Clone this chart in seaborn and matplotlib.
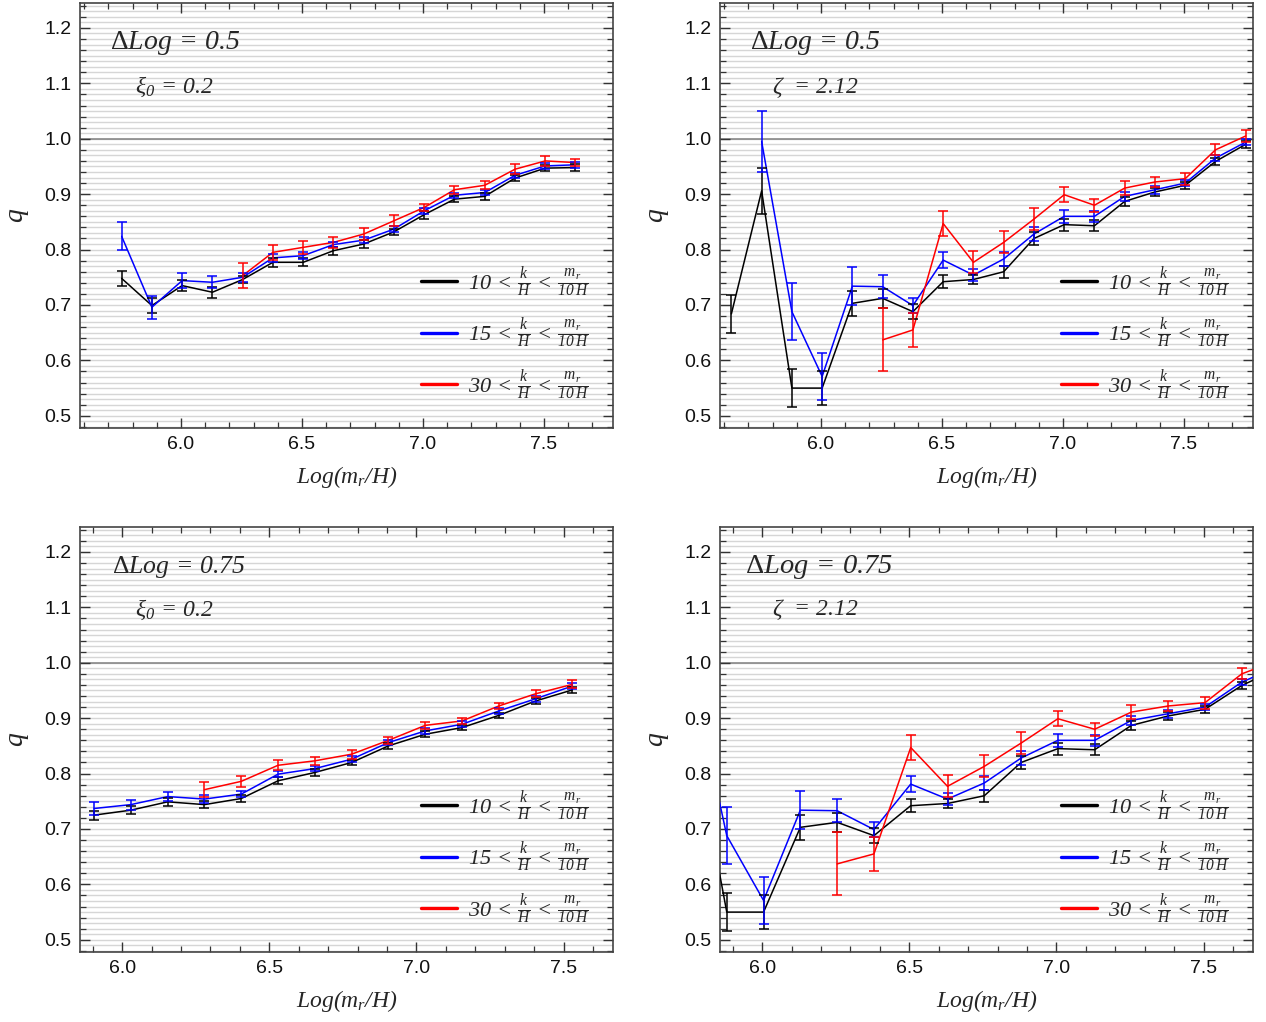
import matplotlib
matplotlib.use('Agg')
import matplotlib.pyplot as plt
import seaborn as sns
import pandas as pd
from matplotlib.lines import Line2D
from matplotlib.ticker import MultipleLocator

sns.set_theme(style='white')
plt.rcParams['font.family'] = ['Liberation Sans', 'DejaVu Sans']
# Mathematica-like italic serif text; upright serif kept in the sf slot for the Delta
plt.rcParams['mathtext.fontset'] = 'custom'
plt.rcParams['mathtext.rm'] = 'Liberation Serif:italic'
plt.rcParams['mathtext.it'] = 'Liberation Serif:italic'
plt.rcParams['mathtext.sf'] = 'Liberation Serif'
plt.rcParams['mathtext.bf'] = 'Liberation Serif:bold'

# --- top-left: DeltaLog = 0.5, xi0 = 0.2 ---
tl_x = [5.755, 5.88, 6.005, 6.13, 6.255, 6.38, 6.505, 6.63, 6.755, 6.88, 7.005, 7.13, 7.255, 7.38, 7.505, 7.63]
tl_q10 = [0.748, 0.699, 0.735, 0.723, 0.746, 0.777, 0.777, 0.798, 0.810, 0.832, 0.863, 0.891, 0.896, 0.929, 0.947, 0.948]
tl_e10 = [0.014, 0.013, 0.010, 0.010, 0.006, 0.008, 0.007, 0.007, 0.007, 0.006, 0.007, 0.006, 0.006, 0.006, 0.006, 0.006]
tl_q15 = [0.824, 0.696, 0.744, 0.741, 0.750, 0.785, 0.789, 0.809, 0.817, 0.837, 0.870, 0.898, 0.903, 0.934, 0.951, 0.953]
tl_e15 = [0.025, 0.021, 0.014, 0.011, 0.008, 0.007, 0.006, 0.005, 0.005, 0.005, 0.005, 0.005, 0.005, 0.005, 0.005, 0.005]
tl_x30 = [6.255, 6.38, 6.505, 6.63, 6.755, 6.88, 7.005, 7.13, 7.255, 7.38, 7.505, 7.63]
tl_q30 = [0.753, 0.795, 0.804, 0.813, 0.828, 0.852, 0.876, 0.908, 0.916, 0.945, 0.960, 0.957]
tl_e30 = [0.022, 0.014, 0.012, 0.010, 0.011, 0.010, 0.007, 0.007, 0.007, 0.009, 0.009, 0.007]

# --- right column: zeta = 2.12 (same data, two x ranges) ---
tr_x = [5.63, 5.755, 5.88, 6.005, 6.13, 6.255, 6.38, 6.505, 6.63, 6.755, 6.88, 7.005, 7.13, 7.255, 7.38, 7.505, 7.63, 7.755]
tr_q10 = [0.684, 0.906, 0.550, 0.550, 0.703, 0.712, 0.688, 0.742, 0.746, 0.760, 0.820, 0.845, 0.843, 0.887, 0.904, 0.916, 0.959, 0.990]
tr_e10 = [0.034, 0.041, 0.035, 0.030, 0.023, 0.017, 0.013, 0.012, 0.009, 0.011, 0.012, 0.011, 0.010, 0.008, 0.007, 0.006, 0.007, 0.006]
tr_x15 = [5.755, 5.88, 6.005, 6.13, 6.255, 6.38, 6.505, 6.63, 6.755, 6.88, 7.005, 7.13, 7.255, 7.38, 7.505, 7.63, 7.755]
tr_q15 = [0.995, 0.688, 0.571, 0.734, 0.733, 0.699, 0.781, 0.754, 0.783, 0.828, 0.860, 0.860, 0.896, 0.908, 0.920, 0.965, 0.994]
tr_e15 = [0.055, 0.052, 0.043, 0.034, 0.021, 0.014, 0.014, 0.011, 0.013, 0.012, 0.012, 0.010, 0.008, 0.007, 0.006, 0.006, 0.006]
tr_x30 = [6.255, 6.38, 6.505, 6.63, 6.755, 6.88, 7.005, 7.13, 7.255, 7.38, 7.505, 7.63, 7.755]
tr_q30 = [0.637, 0.655, 0.847, 0.777, 0.813, 0.855, 0.899, 0.880, 0.911, 0.922, 0.928, 0.980, 1.005]
tr_e30 = [0.057, 0.031, 0.023, 0.020, 0.020, 0.020, 0.014, 0.012, 0.013, 0.009, 0.011, 0.010, 0.010]

# --- bottom-left: DeltaLog = 0.75, xi0 = 0.2 ---
bl_x = [5.905, 6.03, 6.155, 6.28, 6.405, 6.53, 6.655, 6.78, 6.905, 7.03, 7.155, 7.28, 7.405, 7.53]
bl_q10 = [0.725, 0.734, 0.749, 0.744, 0.755, 0.787, 0.802, 0.820, 0.850, 0.871, 0.883, 0.905, 0.931, 0.951]
bl_e10 = [0.008, 0.0075, 0.0075, 0.007, 0.006, 0.006, 0.006, 0.005, 0.005, 0.005, 0.005, 0.005, 0.005, 0.005]
bl_q15 = [0.737, 0.744, 0.7585, 0.754, 0.763, 0.799, 0.809, 0.826, 0.856, 0.877, 0.889, 0.913, 0.935, 0.958]
bl_e15 = [0.012, 0.009, 0.0075, 0.0065, 0.0055, 0.006, 0.005, 0.005, 0.005, 0.005, 0.005, 0.005, 0.005, 0.005]
bl_x30 = [6.28, 6.405, 6.53, 6.655, 6.78, 6.905, 7.03, 7.155, 7.28, 7.405, 7.53]
bl_q30 = [0.771, 0.786, 0.815, 0.823, 0.835, 0.860, 0.887, 0.895, 0.922, 0.944, 0.961]
bl_e30 = [0.013, 0.0105, 0.009, 0.0075, 0.008, 0.006, 0.006, 0.005, 0.006, 0.006, 0.007]

series_names = ['10', '15', '30']
colors = {'10': 'black', '15': '#0000ff', '30': '#ff0000'}
legend_labels = [r'$%s\,<\,\frac{k}{H}\,<\,\frac{m_r}{10\,H}$' % s for s in series_names]

W, H = 1266, 1022
fig = plt.figure(figsize=(W / 100, H / 100), dpi=100)


def make_frame(xs, qs, es):
    parts = []
    for name, x, q, e in zip(series_names, xs, qs, es):
        parts.append(pd.DataFrame({'x': x, 'q': q, 'err': e, 'series': name}))
    return pd.concat(parts, ignore_index=True)


def draw_panel(rect, df, xlim, title, param):
    ax = fig.add_axes(rect)
    # light grid every 0.01, dark line at q = 1
    for i in range(48, 125):
        ax.axhline(i / 100, color='#d6d6d6', lw=1.0, zorder=0)
    ax.axhline(1.0, color='#808080', lw=1.1, zorder=0.5)

    sns.lineplot(data=df, x='x', y='q', hue='series', palette=colors,
                 estimator=None, sort=False, lw=1.1, legend=False, ax=ax, zorder=3)
    for name in series_names:
        d = df[df['series'] == name]
        ax.errorbar(d['x'], d['q'], yerr=d['err'], fmt='none', ecolor=colors[name],
                    elinewidth=1.1, capsize=3.6, capthick=1.1, zorder=3)

    ax.set_xlim(*xlim)
    ax.set_ylim(0.478, 1.245)
    ax.xaxis.set_major_locator(MultipleLocator(0.5))
    ax.xaxis.set_minor_locator(MultipleLocator(0.1))
    ax.yaxis.set_major_locator(MultipleLocator(0.1))
    ax.yaxis.set_minor_locator(MultipleLocator(0.02))
    ax.xaxis.set_major_formatter(plt.FormatStrFormatter('%.1f'))
    ax.yaxis.set_major_formatter(plt.FormatStrFormatter('%.1f'))
    ax.tick_params(which='both', direction='in', top=True, right=True,
                   bottom=True, left=True, color='#333333', labelsize=14,
                   labelcolor='#111111')
    ax.tick_params(which='major', length=7, width=1.0, pad=6)
    ax.tick_params(which='minor', length=4, width=0.9)
    for sp in ax.spines.values():
        sp.set_color('#444444')
        sp.set_linewidth(1.2)

    ax.set_xlabel(r'$Log(m_r/H)$', fontsize=17, labelpad=8)
    ax.set_ylabel(r'$q$', fontsize=20, labelpad=10)

    ax.text(title[0], title[1], title[2], transform=ax.transAxes, fontsize=title[3],
            ha='left', va='center')
    ax.text(param[0], param[1], param[2], transform=ax.transAxes, fontsize=17,
            ha='left', va='center')

    handles = [Line2D([0], [0], color=colors[s], lw=2.4) for s in series_names]
    ax.legend(handles, legend_labels, loc='center left', bbox_to_anchor=(0.64, 0.222),
              frameon=False, fontsize=16, handlelength=1.6, handletextpad=0.5,
              labelspacing=0.75, borderpad=0, borderaxespad=0)
    return ax


ax_w = 533 / W
ax_h = 425 / H
top_b = 1 - 428 / H
bot_b = 1 - 952 / H
left_l = 80 / W
right_l = 720 / W

dl05 = r'$\mathsf{\Delta}Log\,=\,0.5$'
dl075 = r'$\mathsf{\Delta}Log\,=\,0.75$'
xi_txt = r'$\xi_{0}\,=\,0.2$'
zeta_txt = r'$\zeta\ \,=\,2.12$'

df_tl = make_frame([tl_x, tl_x, tl_x30], [tl_q10, tl_q15, tl_q30], [tl_e10, tl_e15, tl_e30])
df_tr = make_frame([tr_x, tr_x15, tr_x30], [tr_q10, tr_q15, tr_q30], [tr_e10, tr_e15, tr_e30])
df_bl = make_frame([bl_x, bl_x, bl_x30], [bl_q10, bl_q15, bl_q30], [bl_e10, bl_e15, bl_e30])

draw_panel([left_l, top_b, ax_w, ax_h], df_tl, (5.583, 7.785),
           (0.056, 0.906, dl05, 20), (0.103, 0.802, xi_txt))
draw_panel([right_l, top_b, ax_w, ax_h], df_tr, (5.583, 7.785),
           (0.056, 0.906, dl05, 20), (0.0976, 0.802, zeta_txt))
draw_panel([left_l, bot_b, ax_w, ax_h], df_bl, (5.857, 7.668),
           (0.060, 0.906, dl075, 18.5), (0.103, 0.805, xi_txt))
draw_panel([right_l, bot_b, ax_w, ax_h], df_tr, (5.857, 7.668),
           (0.047, 0.906, dl075, 20.5), (0.0976, 0.805, zeta_txt))

fig.savefig('out.png', dpi=100)
